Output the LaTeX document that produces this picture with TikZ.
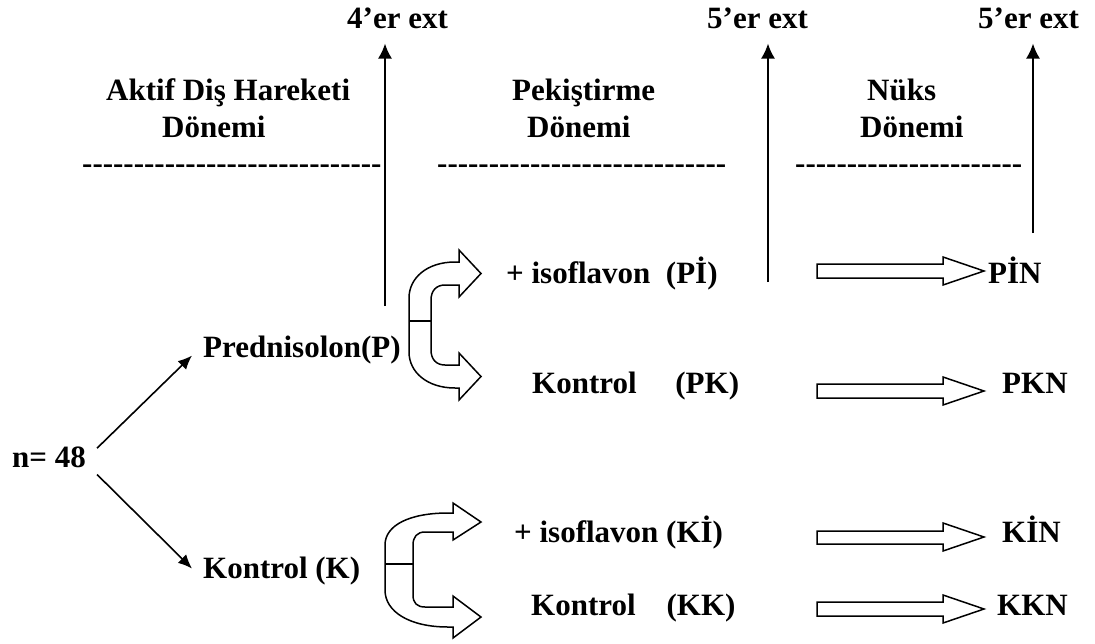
\documentclass[tikz,border=0pt]{standalone}
\usepackage{fontspec}
\setmainfont{Liberation Serif}[Ligatures=TeXOff]
\usetikzlibrary{arrows.meta,positioning}

\tikzset{
  lbl/.style={inner sep=0pt, font=\bfseries\fontsize{31}{37}\selectfont},
  uparr/.style={-{Latex[length=15pt,width=14pt]}, line width=2pt},
  grparr/.style={-{Latex[length=14pt,width=12pt]}, line width=1.6pt},
  blk/.style={line width=1.5pt, line join=miter, fill=white},
}

\begin{document}
\begin{tikzpicture}[x=1pt,y=-1pt]
\useasboundingbox (0,0) rectangle (1095,643);
%\draw[step=50,gray,very thin] (0,0) grid (1095,643);

% ext etiketleri
\node[lbl, anchor=base west] (ext1) at (347,28) {4’er ext};
\node[lbl, anchor=base west] (ext2) at (707,28) {5’er ext};
\node[lbl, anchor=base west] (ext3) at (978,28) {5’er ext};

% donem basliklari
\node[lbl, anchor=base west] (act1) at (106,100) {Aktif Diş Hareketi};
\node[lbl, anchor=base west] (act2) at (162,137) {Dönemi};
\node[lbl, anchor=base west] (pek1) at (512,100) {Pekiştirme};
\node[lbl, anchor=base west] (pek2) at (527,137) {Dönemi};
\node[lbl, anchor=base west] (nuk1) at (867,100) {Nüks};
\node[lbl, anchor=base west] (nuk2) at (860,137) {Dönemi};

\node[lbl, anchor=base west] (dash1) at (82,173) {-----------------------------};
\node[lbl, anchor=base west] (dash2) at (437,173) {----------------------------};
\node[lbl, anchor=base west] (dash3) at (795,173) {----------------------};

% dikey oklar
\coordinate (b1) at (385,306);
\coordinate (b2) at (768,282);
\coordinate (b3) at (1033,233);
\draw[uparr] (b1) -- ([yshift=-15pt]b1 |- ext1.south);
\draw[uparr] (b2) -- ([yshift=-15pt]b2 |- ext2.south);
\draw[uparr] (b3) -- ([yshift=-15pt]b3 |- ext3.south);

% gruplar
\node[lbl, anchor=base west] (n48) at (12,467) {n= 48};
\node[lbl, anchor=base west] (pred) at (203,357) {Prednisolon(P)};
\node[lbl, anchor=base west] (kon) at (203,578) {Kontrol (K)};
\draw[grparr] ([xshift=11pt,yshift=-2pt]n48.north east) -- ([xshift=-11pt,yshift=-6pt]pred.west);
\draw[grparr] ([xshift=11pt,yshift=-7pt]n48.south east) -- ([xshift=-11pt,yshift=2pt]kon.west);

% pekistirme gruplari
\node[lbl, anchor=base west] (pi) at (506,283) {+ isoflavon~~(Pİ)};
\node[lbl, anchor=base west] (pk) at (532,393) {Kontrol~~~~~(PK)};
\node[lbl, anchor=base west] (ki) at (514,542) {+ isoflavon (Kİ)};
\node[lbl, anchor=base west] (kk) at (531,615) {Kontrol~~~~(KK)};

% nuks gruplari
\node[lbl, anchor=base west] (pin) at (988,283) {PİN};
\node[lbl, anchor=base west] (pkn) at (1002,393) {PKN};
\node[lbl, anchor=base west] (kin) at (1002,542) {KİN};
\node[lbl, anchor=base west] (kkn) at (997,615) {KKN};

% kivrik oklar
\draw[blk] (455,262) -- (459,262) -- (459,250) -- (481,273.5) -- (459,297) -- (459,285) -- (445,285)
  .. controls (436,285) and (431,291) .. (431,300) -- (431,350)
  .. controls (431,359) and (436,365) .. (445,365) -- (459,365) -- (459,353) -- (481,376.5) -- (459,400) -- (459,388) -- (455,388)
  .. controls (427,388) and (409,372) .. (409,352) -- (409,298)
  .. controls (409,278) and (427,262) .. (455,262) -- cycle;
\draw[blk] (409,321) -- (431,321);
\draw[blk] (448,513) -- (453,513) -- (453,503) -- (481,522) -- (453,540) -- (453,532) -- (425,532)
  .. controls (417,532) and (413,537) .. (413,545) -- (413,595)
  .. controls (413,603) and (417,607) .. (425,607) -- (453,607) -- (453,596) -- (481,617) -- (453,638) -- (453,627) -- (448,627)
  .. controls (410,627) and (385,612) .. (385,590) -- (385,545)
  .. controls (385,525) and (410,513) .. (448,513) -- cycle;
\draw[blk] (385,564) -- (413,564);

% blok oklar
\draw[blk] (817,264) -- (943,264) -- (943,257) -- (984,271) -- (943,285) -- (943,278) -- (817,278) -- cycle;
\draw[blk] (817,384) -- (943,384) -- (943,377) -- (984,391) -- (943,405) -- (943,398) -- (817,398) -- cycle;
\draw[blk] (817,531) -- (943,531) -- (943,523) -- (984,537) -- (943,551) -- (943,544) -- (817,544) -- cycle;
\draw[blk] (817,602) -- (943,602) -- (943,595) -- (984,609) -- (943,623) -- (943,616) -- (817,616) -- cycle;
\end{tikzpicture}
\end{document}
